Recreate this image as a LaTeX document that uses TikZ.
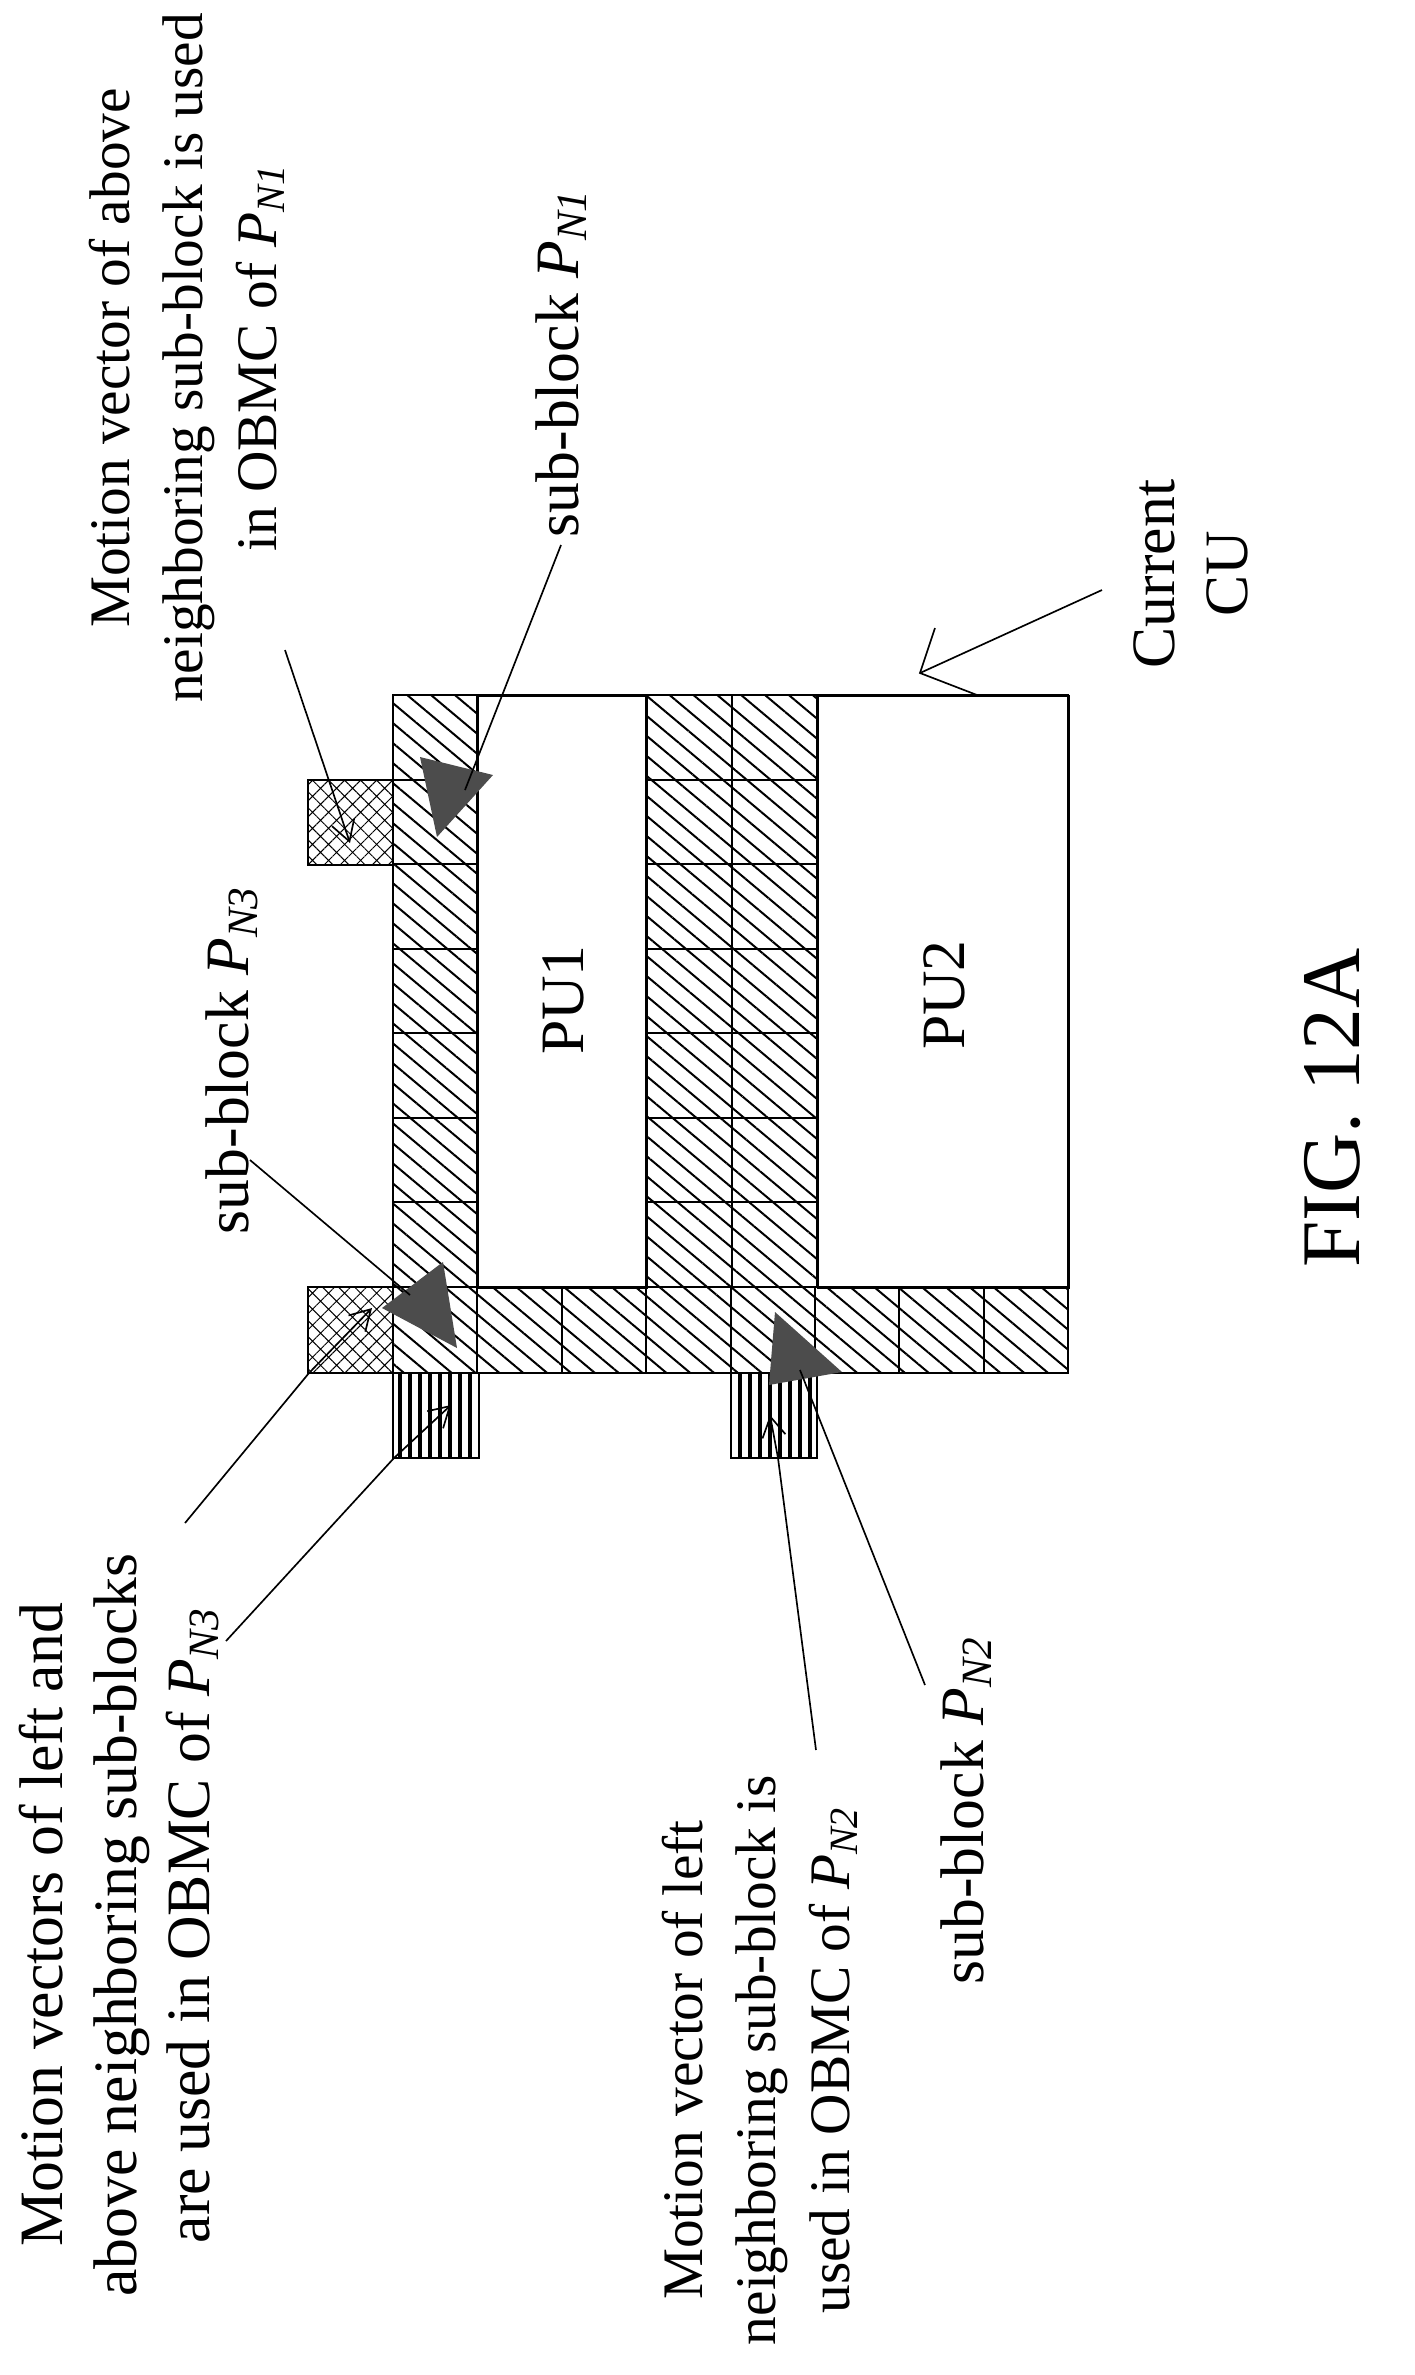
\documentclass[tikz,border=0pt]{standalone}
\usepackage{fontspec}
\setmainfont{Liberation Serif}
\usetikzlibrary{patterns.meta,arrows.meta}
\newcommand{\PN}[1]{\textit{P}\textsubscript{\textit{N#1}}}
\begin{document}
\begin{tikzpicture}[x=0.3pt,y=-0.3pt,
 hatch/.style={pattern={Lines[angle=-40,distance=4.6pt,line width=0.6pt]}},
 cross/.style={pattern={Hatch[angle=45,distance=3.4pt,line width=0.3pt]}},
 vstripe/.style={pattern={Lines[angle=90,distance=3pt,line width=1.1pt]}},
 cell/.style={draw,line width=0.6pt},
 lbl/.style={rotate=90,align=center,font=\fontsize{18.5}{22}\selectfont},
 lbls/.style={lbl,font=\fontsize{17.2}{22}\selectfont},
 lead/.style={line width=0.5pt},
 barb/.style={lead,-{Straight Barb[length=6pt,width=7pt]}},
 tri/.style={fill=black!70}]
\useasboundingbox (0,0) rectangle (1415,2375);
\foreach \j in {0,...,6}{
  \path[cell,hatch] (393,{695+\j*84.57}) rectangle ++(84.4,84.57);
  \path[cell,hatch] (646,{695+\j*84.57}) rectangle ++(85.5,84.57);
  \path[cell,hatch] (731.5,{695+\j*84.57}) rectangle ++(85.5,84.57);
}
\foreach \i in {0,...,7}
  \path[cell,hatch] ({393+\i*84.4},1287) rectangle ++(84.4,86);
\node[cell,minimum width=169*0.3pt,minimum height=592*0.3pt,anchor=north west,inner sep=0] (pu1) at (477.4,695) {};
\node[cell,minimum width=251*0.3pt,minimum height=592*0.3pt,anchor=north west,inner sep=0] (pu2) at (817,695) {};
\node[lbl] at (563,1000) {PU1};
\node[lbl] at (944,995) {PU2};
\draw[line width=0.6pt] (393,695) rectangle (1068,1373);
\path[cell,cross] (308,780) rectangle (393,865);
\path[cell,cross] (308,1287) rectangle (393,1373);
\path[cell,vstripe] (393,1373) rectangle (479,1458);
\path[cell,vstripe] (731,1373) rectangle (817,1458);
\fill[tri] (420,757) -- (493,775) -- (437,837) -- cycle;
\fill[tri] (443,1262) -- (457,1348) -- (382,1308) -- cycle;
\fill[tri] (775,1312) -- (842,1372) -- (769,1385) -- cycle;
\node[lbls] (l1) at (187,358) {Motion vector of above\\neighboring sub-block is used\\in OBMC of \PN1};
\node[lbl] (s1) at (561,363) {sub-block \PN1};
\node[lbl] (s3) at (232,1060) {sub-block \PN3};
\node[lbl] (l3) at (119,1925) {Motion vectors of left and\\above neighboring sub-blocks\\are used in OBMC of \PN3};
\node[lbls] (l2) at (760,2060) {Motion vector of left\\neighboring sub-block is\\used in OBMC of \PN2};
\node[lbl] (s2) at (966,1810) {sub-block \PN2};
\node[lbl] (cu) at (1191,574) {Current\\CU};
\node[rotate=90,font=\fontsize{25}{30}\selectfont] (fig) at (1332,1108) {FIG. 12A};
\coordinate (a1s) at (285,650); \coordinate (a1t) at (350,843);
\draw[barb] (a1s) -- (a1t);
\coordinate (p1s) at (561,545); \coordinate (p1t) at (465,790);
\draw[lead] (p1s) -- (p1t);
\coordinate (p3s) at (250,1160); \coordinate (p3t) at (410,1295);
\draw[lead] (p3s) -- (p3t);
\coordinate (l3a) at (185,1523); \coordinate (l3b) at (309,1373); \coordinate (l3c) at (372,1308);
\draw[lead] (l3a) -- (l3b); \draw[barb] (l3b) -- (l3c);
\coordinate (l3d) at (226,1641); \coordinate (l3e) at (394,1458); \coordinate (l3f) at (451,1405);
\draw[lead] (l3d) -- (l3e); \draw[barb] (l3e) -- (l3f);
\coordinate (p2s) at (925,1685); \coordinate (p2t) at (800,1370);
\draw[lead] (p2s) -- (p2t);
\coordinate (l2a) at (816,1750); \coordinate (l2b) at (778,1458); \coordinate (l2c) at (770,1415);
\draw[lead] (l2a) -- (l2b); \draw[barb] (l2b) -- (l2c);
\coordinate (cus) at (1102,590); \coordinate (cut) at (920,673);
\draw[lead] (cus) -- (cut);
\draw[lead] (935,628) -- (cut) -- (977,695);
\end{tikzpicture}
\end{document}
